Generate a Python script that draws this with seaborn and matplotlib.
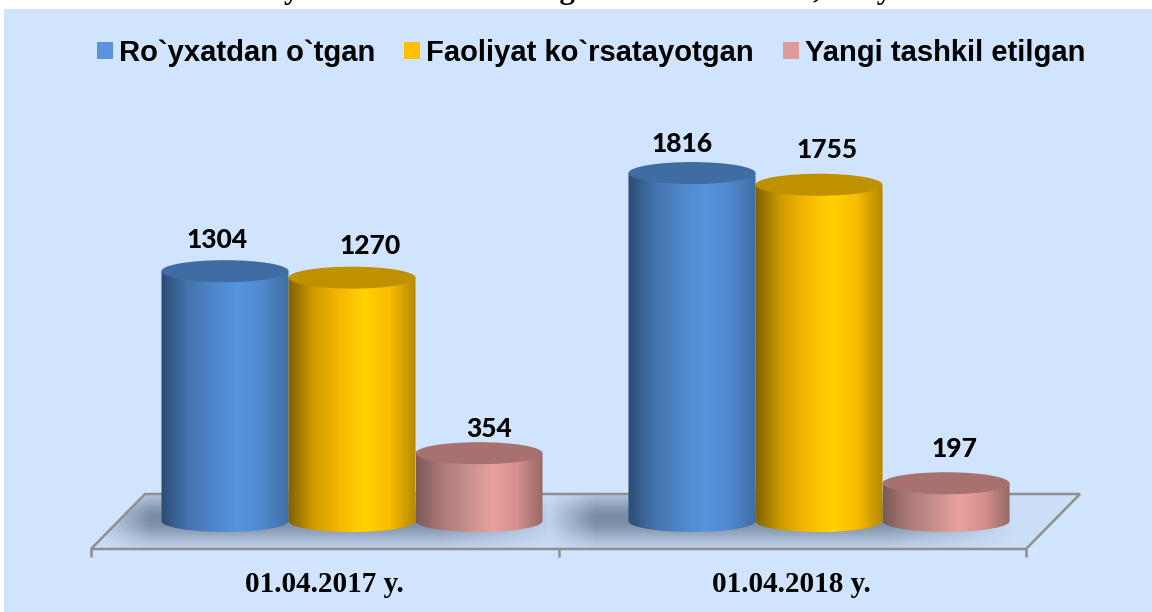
import matplotlib
matplotlib.use("Agg")
import matplotlib.pyplot as plt
from matplotlib.colors import LinearSegmentedColormap
from matplotlib.patches import Ellipse, PathPatch, Polygon, Rectangle
from matplotlib.path import Path
import numpy as np
import pandas as pd
import seaborn as sns

# Data
dates = ["01.04.2017 y.", "01.04.2018 y."]
series = ["Ro`yxatdan o`tgan", "Faoliyat ko`rsatayotgan", "Yangi tashkil etilgan"]
registered = [1304, 1816]
active = [1270, 1755]
new_orgs = [354, 197]

# Look of each series: legend colour, lid colour, body gradient
colors = ["#5b94dc", "#ffc000", "#dc9a98"]
lids = ["#3f6ca3", "#bf9000", "#a6716e"]
shades = [
    ["#2c4d75", "#4472ab", "#4f86c9", "#5694e0", "#5088cc", "#3f6ea6"],
    ["#7f6200", "#d09c00", "#f5b800", "#ffd200", "#f8bd00", "#b58800"],
    ["#7c5a58", "#ab7a78", "#c68f8d", "#e9a19e", "#d38f8c", "#946866"],
]
# label nudges in px
label_dx = [[-8, -10], [18, 8], [10, 8]]
label_dy = [[31, 29], [32, 35], [24, 34]]

BG = "#d0e4fe"
PX_PER_UNIT = 0.1916   # vertical px for one value unit
PX_PER_CAT = 467.0
X0_PX, Y0_PX = 352.0, 521.0
RY = 11.0              # half height of cylinder ends, px

sns.set_theme(style="white")
fig = plt.figure(figsize=(11.52, 6.12), dpi=100, facecolor="white")
ax = fig.add_axes([0, 0, 1, 1])
ax.set_facecolor("none")


def xd(px):
    return (px - X0_PX) / PX_PER_CAT


def yd(py):
    return (Y0_PX - py) / PX_PER_UNIT


df = pd.DataFrame({
    "date": dates * 3,
    "series": np.repeat(series, 2),
    "value": registered + active + new_orgs,
})
sns.barplot(data=df, x="date", y="value", hue="series", hue_order=series,
            palette=colors, width=0.816, gap=0, saturation=1, ax=ax, zorder=1)

xlim = (xd(0), xd(1152))
ylim = (yd(612), yd(0))

# panel
ax.add_patch(Rectangle((xd(4), yd(612)), xd(1152) - xd(4), yd(9) - yd(612),
                       facecolor=BG, edgecolor="none", zorder=0))

# floor with soft shadow under the bars
floor_px = [(91, 549), (145, 494), (1080, 494), (1026, 549)]
floor_xy = [(xd(a), yd(b)) for a, b in floor_px]
gx, gy = np.meshgrid(np.arange(85, 1085, 2.0), np.arange(490, 552, 1.0))
shadow = np.zeros_like(gx)
for left, right, strength in [(95, 570, 1.0), (540, 1015, 1.0)]:
    sx = np.clip((gx - left) / 55, 0, 1) * np.clip((right - gx) / 130, 0, 1)
    sy = np.exp(-((gy - 518) / 23) ** 2)
    shadow = np.maximum(shadow, strength * sx * sy)
floor_cmap = LinearSegmentedColormap.from_list("floor", ["#cbdff8", "#7a8ca3"])
floor_img = ax.imshow(shadow, cmap=floor_cmap, vmin=0, vmax=1, aspect="auto", zorder=0.5,
                      extent=(xd(85), xd(1085), yd(552), yd(490)), origin="upper")
floor_patch = Polygon(floor_xy, closed=True, facecolor="none", edgecolor="none",
                      transform=ax.transData, zorder=0.5)
ax.add_patch(floor_patch)
floor_img.set_clip_path(floor_patch)
ax.add_patch(Polygon(floor_xy, closed=True, facecolor="none", edgecolor="#8f8f8f",
                     linewidth=1.8, zorder=0.8))
for tick_px in (91, 558.5, 1026):
    ax.plot([xd(tick_px)] * 2, [yd(549), yd(557)], color="#8f8f8f", lw=1.8, zorder=0.8,
            solid_capstyle="butt")

# cylinders built on top of the seaborn bars
ry = RY / PX_PER_UNIT
z = 2
for s, cont in enumerate(ax.containers):
    cmap = LinearSegmentedColormap.from_list(f"c{s}", shades[s])
    for c, bar in enumerate(cont):
        x, w, h = bar.get_x(), bar.get_width(), bar.get_height()
        bar.set_visible(False)
        cx = x + w / 2
        t = np.linspace(np.pi, 2 * np.pi, 60)
        arc = np.column_stack([cx + w / 2 * np.cos(t), ry * np.sin(t)])
        outline = np.vstack([[[x, h]], arc, [[x + w, h]], [[x, h]]])
        body = PathPatch(Path(outline), facecolor="none", edgecolor="none",
                         transform=ax.transData, zorder=z)
        ax.add_patch(body)
        img = ax.imshow(np.linspace(0, 1, 128)[None, :], cmap=cmap, aspect="auto", zorder=z,
                        extent=(x, x + w, -ry, h))
        img.set_clip_path(body)
        ax.add_patch(Ellipse((cx, h), w, 2 * ry, facecolor=lids[s], edgecolor="none", zorder=z + 0.1))
        ax.annotate(str(int(h)), (cx, h), xytext=(label_dx[s][c] * 0.72, label_dy[s][c] * 0.72),
                    textcoords="offset points", ha="center", va="center", fontsize=19,
                    fontweight=900, family="Lato", color="black", zorder=20)
        z += 1

ax.set_xlim(xlim)
ax.set_ylim(ylim)
ax.set_xlabel("")
ax.set_ylabel("")
ax.set_xticks([])
ax.set_yticks([])
sns.despine(ax=ax, left=True, bottom=True)

# category labels sit under the floor's front edge
for i, name in enumerate(dates):
    ax.text(xd(324.5 + i * PX_PER_CAT), yd(585), name, ha="center", va="center", fontsize=21,
            fontweight="bold", family="Liberation Serif", color="black")

handles, labels = ax.get_legend_handles_labels()
handles = [Rectangle((0, 0), 1, 1, facecolor=col, edgecolor="none") for col in colors]
ax.legend(handles, labels, loc="center", bbox_to_anchor=(591 / 1152, 1 - 53 / 612), ncols=3,
          frameon=False, handlelength=0.55, handleheight=0.55, handletextpad=0.2, columnspacing=1.0,
          labelcolor="black", prop={"family": "Liberation Sans", "weight": "bold", "size": 21},
          bbox_transform=fig.transFigure)

# the title is cut off by the top edge of the picture, only its lower part shows
fig.text(577 / 1152, 1 + 2 / 612, "Oilaviy korxonalar sonining o`sish dinamikasi, viloyatda",
         ha="center", va="baseline", fontsize=22.3, fontweight="bold", family="Liberation Serif",
         color="black", zorder=-1)

fig.savefig("out.png", dpi=100, facecolor="white")
